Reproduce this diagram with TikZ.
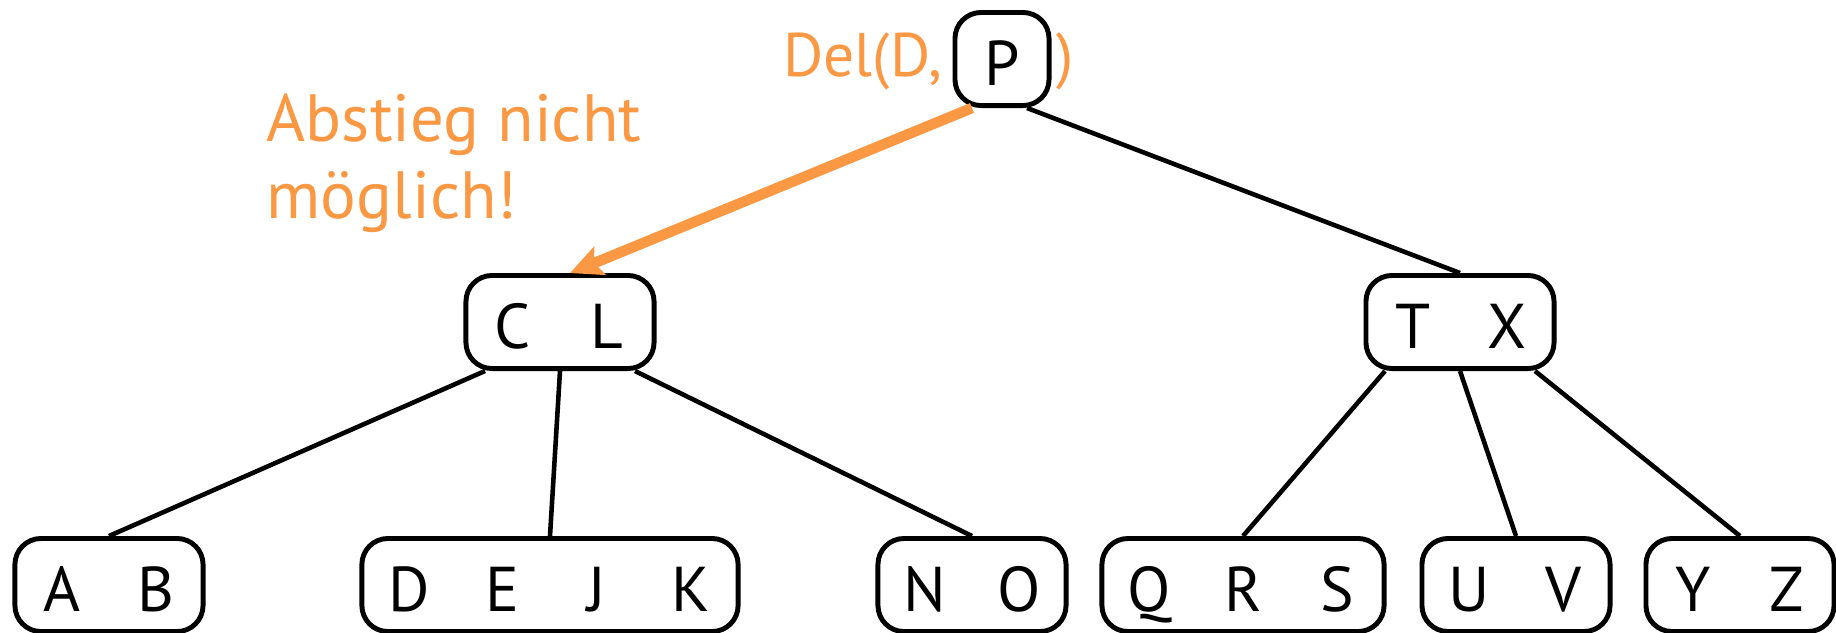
\documentclass[tikz,border=0pt]{standalone}
\usepackage{fontspec}
\setmainfont{PT Sans}
\usetikzlibrary{arrows.meta,calc}
\definecolor{delorange}{RGB}{250,152,68}
\newcommand{\bkeys}[1]{\foreach \k in {#1}{\makebox[0.94cm]{\k}}}

\begin{document}
\begin{tikzpicture}[x=0.01cm, y=-0.01cm,
    knoten/.style={draw, line width=1.4pt, rounded corners=0.26cm, inner xsep=0pt, inner ysep=0pt,
        minimum height=0.93cm, text height=0.53cm, text depth=0pt, font=\fontsize{18}{20}\selectfont},
    kante/.style={line width=1.3pt},
    hinweis/.style={text=delorange, inner sep=0pt}]
    \useasboundingbox (0,0) rectangle (1836,632);
    % Wurzel und innere Knoten
    \node[knoten] (P) at (1002,59) {\bkeys{P}};
    \node[knoten] (CL) at (560,322) {\bkeys{C,L}};
    \node[knoten] (TX) at (1460,322) {\bkeys{T,X}};
    % Blaetter
    \node[knoten] (AB) at (109,585) {\bkeys{A,B}};
    \node[knoten] (DEJK) at (550,585) {\bkeys{D,E,J,K}};
    \node[knoten] (NO) at (972,585) {\bkeys{N,O}};
    \node[knoten] (QRS) at (1243,585) {\bkeys{Q,R,S}};
    \node[knoten] (UV) at (1516,585) {\bkeys{U,V}};
    \node[knoten] (YZ) at (1740,585) {\bkeys{Y,Z}};
    % Kanten
    \draw[kante] ($(P.south)+(25,0)$) -- (TX.north);
    \draw[kante] ($(CL.south)+(-75,0)$) -- (AB.north);
    \draw[kante] (CL.south) -- (DEJK.north);
    \draw[kante] ($(CL.south)+(75,0)$) -- (NO.north);
    \draw[kante] ($(TX.south)+(-75,0)$) -- (QRS.north);
    \draw[kante] (TX.south) -- (UV.north);
    \draw[kante] ($(TX.south)+(75,0)$) -- (YZ.north);
    % Abstieg
    \draw[draw=delorange, line width=3pt, -{Stealth[length=0.32cm, width=0.3cm, inset=0.06cm]}]
        ($(P.south)+(-30,0)$) -- ($(CL.north)+(10,0)$);
    \node[hinweis, anchor=base east, font=\fontsize{17.5}{20}\selectfont] (del) at (943,76) {Del(D,};
    \node[hinweis, anchor=base west, font=\fontsize{17.5}{20}\selectfont] (klammer) at (1056,76) {)};
    \node[hinweis, anchor=north west, align=left, font=\fontsize{19}{21.9}\selectfont] (abstieg) at (266,93) {Abstieg nicht\\möglich!};
\end{tikzpicture}
\end{document}
